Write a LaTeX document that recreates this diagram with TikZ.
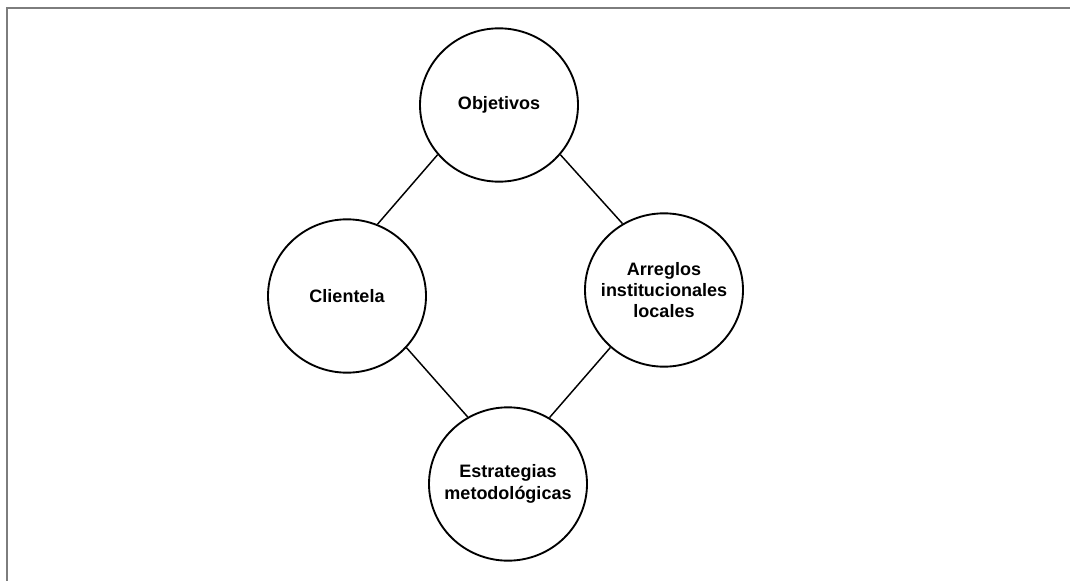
\documentclass[tikz,border=0pt]{standalone}
\usepackage{fontspec}
\setmainfont{Liberation Sans}
\usepackage{tikz}
\usetikzlibrary{shapes.geometric}
\definecolor{marco}{RGB}{125,125,125}

\begin{document}
\begin{tikzpicture}[x=0.75pt, y=-0.75pt,
  tema/.style={draw, ellipse, line width=1.4pt, minimum width=118.5pt,
               minimum height=115pt, inner sep=0pt},
  rotulo/.style={font=\fontsize{13.5}{16}\selectfont\bfseries, align=center},
  enlace/.style={line width=1.1pt},
]
\useasboundingbox (0,0) rectangle (1070,581);
% marco exterior (solo arriba e izquierda)
\draw[marco, line width=1.1pt] (1070,8) -- (7,8) -- (7,581);

\node[tema, label={[rotulo]center:Objetivos}] (obj) at (499,105) {};
\node[tema, label={[rotulo]center:Clientela}] (cli) at (347,296) {};
\node[tema, label={[rotulo]center:{Arreglos\\institucionales\\locales}}] (arr) at (664,290) {};
\node[tema, label={[rotulo]center:{Estrategias\\metodológicas}}] (est) at (508,484) {};

\draw[enlace] (obj.219) -- (cli.67);
\draw[enlace] (obj.321) -- (arr.122);
\draw[enlace] (cli.319) -- (est.121);
\draw[enlace] (arr.227) -- (est.58);
\end{tikzpicture}
\end{document}
